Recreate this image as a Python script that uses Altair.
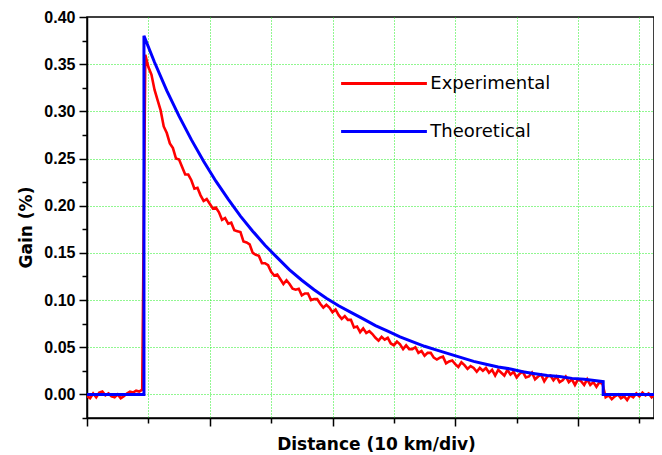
import altair as alt
import pandas as pd

# ---------------- data ----------------
series_names = ["Experimental", "Theoretical"]
series_colors = ["#ff0000", "#0000ff"]

x_ticks = [0, 5, 10, 15, 20, 25, 30, 35, 40, 45]
y_ticks = [-0.025, 0, 0.025, 0.05, 0.075, 0.1, 0.125, 0.15, 0.175, 0.2,
           0.225, 0.25, 0.275, 0.3, 0.325, 0.35, 0.375, 0.4]

# Theoretical curve (km, gain %)
blue_km = [0, 4.64, 4.64, 5.5, 6.5, 7.5, 8.5, 9.5, 10.5, 11.5, 12.5, 13.5, 14.5,
           15.5, 16.5, 17.5, 18.5, 19.5, 20.5, 21.5, 22.5, 23.5, 24.5, 25.5,
           26.5, 27.5, 28.5, 29.5, 30.5, 31.5, 32.5, 33.5, 34.5, 35.5, 36.5,
           37.5, 38.5, 39.5, 40.5, 41.5, 42.05, 42.05, 46.7]
blue_gain = [0, 0, 0.380, 0.352, 0.322, 0.295, 0.270, 0.247, 0.226, 0.207, 0.189,
             0.173, 0.158, 0.145, 0.132, 0.121, 0.111, 0.102, 0.094, 0.087, 0.080,
             0.073, 0.067, 0.061, 0.056, 0.051, 0.047, 0.043, 0.039, 0.035, 0.032,
             0.029, 0.027, 0.024, 0.022, 0.020, 0.019, 0.017, 0.016, 0.0145,
             0.0135, 0, 0]

# Experimental trace, sampled every 0.25 km
red_step = 0.25
red_pre = [-0.002, -0.004, 0.001, -0.003, 0.002, 0.003, -0.001, 0.001, -0.002,
           -0.003, 0.000, -0.004, -0.002, 0.001, 0.003, 0.002, 0.004, 0.003, 0.005]
red_decay = [
    0.360, 0.347, 0.339, 0.323, 0.312, 0.301, 0.284, 0.277, 0.266, 0.261,
    0.250, 0.249, 0.241, 0.233, 0.233, 0.227, 0.218, 0.219, 0.211, 0.205,
    0.207, 0.202, 0.197, 0.198, 0.193, 0.185, 0.187, 0.181, 0.182, 0.174,
    0.173, 0.172, 0.162, 0.161, 0.159, 0.150, 0.148, 0.147, 0.139, 0.139,
    0.137, 0.130, 0.126, 0.127, 0.122, 0.117, 0.121, 0.117, 0.112, 0.111,
    0.112, 0.105, 0.107, 0.107, 0.100, 0.101, 0.101, 0.096, 0.092, 0.095,
    0.092, 0.087, 0.090, 0.084, 0.080, 0.083, 0.079, 0.079, 0.071, 0.072,
    0.066, 0.070, 0.065, 0.067, 0.064, 0.060, 0.057, 0.061, 0.058, 0.060,
    0.054, 0.052, 0.056, 0.053, 0.048, 0.052, 0.048, 0.048, 0.050, 0.044,
    0.046, 0.041, 0.044, 0.044, 0.039, 0.037, 0.039, 0.040, 0.033, 0.035,
    0.036, 0.032, 0.029, 0.034, 0.031, 0.027, 0.030, 0.028, 0.024, 0.028,
    0.025, 0.028, 0.023, 0.026, 0.020, 0.026, 0.023, 0.020, 0.026, 0.021,
    0.024, 0.018, 0.022, 0.024, 0.018, 0.019, 0.023, 0.016, 0.019, 0.021,
    0.014, 0.019, 0.020, 0.015, 0.019, 0.013, 0.015, 0.019, 0.013, 0.016,
    0.010, 0.016, 0.014, 0.010, 0.016, 0.010, 0.013, 0.008, 0.013, 0.011,
]
red_post = [-0.003, -0.001, -0.005, -0.002, 0.000, -0.004, -0.002, -0.006, -0.001,
            -0.003, 0.001, -0.002, 0.002, -0.001, 0.001, -0.003, 0.000, 0.004, 0.006]

# ---------------- frames ----------------
red_gain = red_pre + red_decay + red_post
red_km = ([i * red_step for i in range(len(red_pre))]
          + [4.75 + i * red_step for i in range(len(red_decay))]
          + [42.25 + i * red_step for i in range(len(red_post))])

df_red = pd.DataFrame({"km": red_km, "gain": red_gain,
                       "series": series_names[0], "idx": range(len(red_km))})
df_blue = pd.DataFrame({"km": blue_km, "gain": blue_gain,
                        "series": series_names[1], "idx": range(len(blue_km))})

major_y = "abs(datum.value*20 - round(datum.value*20)) < 0.01"

x_enc = alt.X(
    "km:Q",
    scale=alt.Scale(domain=[0, 46.19], nice=False, zero=False),
    axis=alt.Axis(
        values=x_ticks, labels=False,
        tickSize={"condition": {"test": "datum.value % 10 === 0", "value": 8}, "value": 5},
        grid=True,
        gridOpacity={"condition": {"test": "datum.value === 0", "value": 0}, "value": 1},
        title="Distance (10 km/div)",
        titleX=289, titleY=31, titleBaseline="alphabetic", titleAlign="center",
    ),
)
y_enc = alt.Y(
    "gain:Q",
    scale=alt.Scale(domain=[-0.025, 0.40], nice=False, zero=False),
    axis=alt.Axis(
        values=y_ticks,
        labelExpr=major_y + " ? format(datum.value, '.2f') : ''",
        tickSize={"condition": {"test": major_y, "value": 8}, "value": 5},
        grid=True,
        gridOpacity={"condition": {"test": major_y + " && datum.value < 0.39", "value": 1},
                     "value": 0},
        title="Gain (%)",
        titleX=-56, titleY=210, titleAngle=-90, titleBaseline="alphabetic",
        titleAlign="center", labelPadding=4,
    ),
)
color_enc = alt.Color(
    "series:N",
    scale=alt.Scale(domain=series_names, range=series_colors),
    legend=alt.Legend(
        title=None, orient="none", legendX=284.5, legendY=54,
        symbolType="M-4,0H4", symbolSize=460, symbolStrokeWidth=3,
        labelFont="DejaVu Sans", labelFontSize=18, labelColor="black",
        labelOffset=33.8, rowPadding=26, padding=0, labelLimit=400,
    ),
)

red = alt.Chart(df_red).mark_line(strokeWidth=2.6, clip=True).encode(
    x=x_enc, y=y_enc, color=color_enc, order="idx:Q")
blue = alt.Chart(df_blue).mark_line(strokeWidth=3, clip=True).encode(
    x=x_enc, y=y_enc, color=color_enc, order="idx:Q")

chart = (
    alt.layer(red, blue)
    .properties(
        width=567, height=401,
        padding={"left": 79, "top": 9, "right": 0, "bottom": 34},
        autosize=alt.AutoSizeParams(type="none"),
        background="white",
    )
    .configure_view(stroke="black", strokeWidth=1.5)
    .configure_axis(
        domainColor="black", domainWidth=1.5, tickColor="black", tickWidth=1.5,
        gridColor="#22ee22", gridDash=[1, 2], gridWidth=1,
        labelFont="Liberation Sans", labelFontWeight="bold", labelFontSize=16,
        labelColor="black",
        titleFont="DejaVu Sans", titleFontWeight="bold", titleFontSize=17,
        titleColor="black",
    )
)

chart.save("out.html", embed_options={"renderer": "svg", "actions": False})
